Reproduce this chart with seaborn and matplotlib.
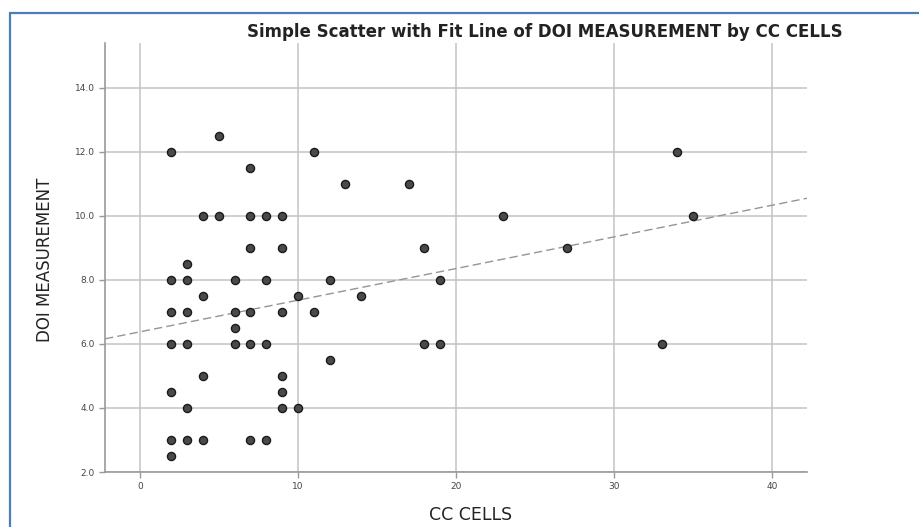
import numpy as np
import pandas as pd
import seaborn as sns
import matplotlib.pyplot as plt
from matplotlib.lines import Line2D

cc_cells = [2, 5, 11, 7, 13, 17, 34,
            4, 5, 7, 8, 9, 23, 35,
            7, 9, 18, 27,
            3,
            2, 3, 6, 8, 12, 19,
            4, 10, 14,
            2, 3, 6, 7, 9, 11,
            6,
            2, 3, 6, 7, 8, 18, 19, 33,
            12,
            4, 9,
            2, 9,
            3, 9, 10,
            2, 3, 4, 7, 8,
            2]
doi_measurement = [12, 12.5, 12, 11.5, 11, 11, 12,
                   10, 10, 10, 10, 10, 10, 10,
                   9, 9, 9, 9,
                   8.5,
                   8, 8, 8, 8, 8, 8,
                   7.5, 7.5, 7.5,
                   7, 7, 7, 7, 7, 7,
                   6.5,
                   6, 6, 6, 6, 6, 6, 6, 6,
                   5.5,
                   5, 5,
                   4.5, 4.5,
                   4, 4, 4,
                   3, 3, 3, 3, 3,
                   2.5]

x_ticks = [0, 10, 20, 30, 40]
y_ticks = [2, 4, 6, 8, 10, 12, 14]

df = pd.DataFrame({'CC CELLS': cc_cells, 'DOI MEASUREMENT': doi_measurement})

sns.set_theme(style='white')
plt.rcParams['font.family'] = ['DejaVu Sans']

fig = plt.figure(figsize=(9.2, 5.27), dpi=100)
ax = fig.add_axes([105 / 920, 55 / 527, 702 / 920, 429 / 527])

ax.set_xlim(-2.2, 42.2)
ax.set_ylim(2.0, 15.4)
ax.set_xticks(x_ticks)
ax.set_yticks(y_ticks)
ax.grid(True, color='#c4c4c4', linewidth=1.1)
ax.set_axisbelow(True)

# fit line across the whole axis
sns.regplot(data=df, x='CC CELLS', y='DOI MEASUREMENT', ax=ax, scatter=False,
            ci=None, truncate=False,
            line_kws={'color': '#959595', 'linewidth': 1.0, 'linestyle': (0, (6, 3))})

sns.scatterplot(data=df, x='CC CELLS', y='DOI MEASUREMENT', ax=ax, s=34,
                color='#4a4a4a', edgecolor='#1a1a1a', linewidth=1.0, zorder=3)

ax.set_xlim(-2.2, 42.2)
ax.set_ylim(2.0, 15.4)
ax.set_xticklabels([str(t) for t in x_ticks])
ax.set_yticklabels([f'{t:.1f}' for t in y_ticks])
ax.tick_params(axis='both', labelsize=6.5, labelcolor='#444444', color='#999999',
               length=4, width=1, direction='out', left=True, bottom=True)
ax.set_xlabel('')
ax.set_ylabel('')

for side in ['top', 'right']:
    ax.spines[side].set_visible(False)
for side in ['left', 'bottom']:
    ax.spines[side].set_color('#9a9a9a')
    ax.spines[side].set_linewidth(1.2)

fig.text(545 / 920, 1 - 32 / 527, 'Simple Scatter with Fit Line of DOI MEASUREMENT by CC CELLS',
         ha='center', va='center', fontsize=12, fontweight='bold', color='#222222')
fig.text(471 / 920, 1 - 515 / 527, 'CC CELLS', ha='center', va='center',
         fontsize=12.5, color='#222222')
fig.text(45 / 920, 1 - 260 / 527, 'DOI MEASUREMENT', ha='center', va='center',
         rotation=90, fontsize=12, color='#222222')

# blue screenshot frame
fig.add_artist(Line2D([10 / 920, 10 / 920], [0, 1 - 12.5 / 527], transform=fig.transFigure,
                      color='#4a7ebb', linewidth=1.6))
fig.add_artist(Line2D([10 / 920, 1], [1 - 12.5 / 527, 1 - 12.5 / 527], transform=fig.transFigure,
                      color='#4a7ebb', linewidth=1.6))

fig.savefig('out.png', dpi=100)
